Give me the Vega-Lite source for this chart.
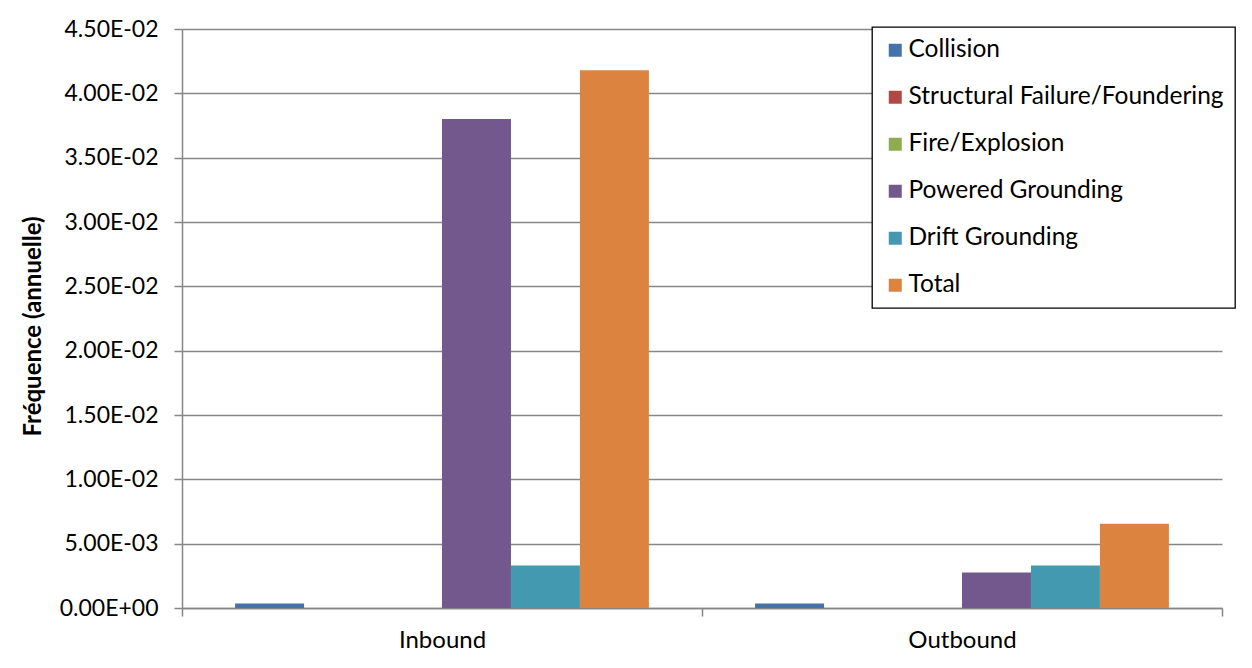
{
  "$schema": "https://vega.github.io/schema/vega-lite/v6.json",
  "autosize": {"type": "none"},
  "width": 1040,
  "height": 579,
  "padding": {"left": 182, "top": 29, "right": 30, "bottom": 60},
  "background": "white",
  "config": {
    "font": "Lato",
    "view": {"stroke": null},
    "legend": {"strokeWidth": 1.3}
  },
  "data": {
    "values": [
      {"direction": "Inbound", "event": "Collision", "frequency": 0.00035},
      {"direction": "Inbound", "event": "Structural Failure/Foundering", "frequency": 0},
      {"direction": "Inbound", "event": "Fire/Explosion", "frequency": 0},
      {"direction": "Inbound", "event": "Powered Grounding", "frequency": 0.0380},
      {"direction": "Inbound", "event": "Drift Grounding", "frequency": 0.0033},
      {"direction": "Inbound", "event": "Total", "frequency": 0.0418},
      {"direction": "Outbound", "event": "Collision", "frequency": 0.00035},
      {"direction": "Outbound", "event": "Structural Failure/Foundering", "frequency": 0},
      {"direction": "Outbound", "event": "Fire/Explosion", "frequency": 0},
      {"direction": "Outbound", "event": "Powered Grounding", "frequency": 0.00275},
      {"direction": "Outbound", "event": "Drift Grounding", "frequency": 0.0033},
      {"direction": "Outbound", "event": "Total", "frequency": 0.00655}
    ]
  },
  "mark": {"type": "bar"},
  "encoding": {
    "x": {
      "field": "direction",
      "type": "nominal",
      "sort": ["Inbound", "Outbound"],
      "scale": {"paddingInner": 0, "paddingOuter": 0},
      "axis": {
        "title": null,
        "labelAngle": 0,
        "labelFontSize": 24,
        "labelColor": "#000000",
        "labelPadding": 12,
        "tickBand": "extent",
        "tickSize": 8,
        "tickColor": "#868686",
        "tickWidth": 1.5,
        "domainColor": "#868686",
        "domainWidth": 1.5,
        "grid": false
      }
    },
    "xOffset": {
      "field": "event",
      "type": "nominal",
      "sort": ["Collision", "Structural Failure/Foundering", "Fire/Explosion", "Powered Grounding", "Drift Grounding", "Total"],
      "scale": {"paddingInner": 0, "paddingOuter": 0.77}
    },
    "y": {
      "field": "frequency",
      "type": "quantitative",
      "scale": {"domain": [0, 0.045], "nice": false},
      "axis": {
        "title": "Fréquence (annuelle)",
        "titleFontSize": 24,
        "titleFontWeight": "bold",
        "titleColor": "#000000",
        "titlePadding": 14,
        "titleY": 297,
        "values": [0, 0.005, 0.01, 0.015, 0.02, 0.025, 0.03, 0.035, 0.04, 0.045],
        "labelExpr": "replace(replace(format(datum.value, '.2e'), 'e-', 'E-0'), 'e+', 'E+0')",
        "labelFontSize": 23,
        "labelColor": "#000000",
        "labelPadding": 16,
        "tickSize": 8,
        "tickColor": "#868686",
        "tickWidth": 1.5,
        "domainColor": "#868686",
        "domainWidth": 1.5,
        "gridColor": "#868686",
        "gridWidth": 1.5
      }
    },
    "color": {
      "field": "event",
      "type": "nominal",
      "scale": {
        "domain": ["Collision", "Structural Failure/Foundering", "Fire/Explosion", "Powered Grounding", "Drift Grounding", "Total"],
        "range": ["#4672AA", "#B24845", "#8FAB50", "#72588D", "#4399B0", "#DB833F"]
      },
      "legend": {
        "title": null,
        "orient": "none",
        "legendX": 690,
        "legendY": -2,
        "fillColor": "white",
        "strokeColor": "#000000",
        "padding": 11,
        "symbolType": "square",
        "symbolSize": 169,
        "symbolStrokeWidth": 0,
        "labelFontSize": 24.5,
        "labelColor": "#000000",
        "labelOffset": 1,
        "labelLimit": 400,
        "rowPadding": 22
      }
    }
  }
}
